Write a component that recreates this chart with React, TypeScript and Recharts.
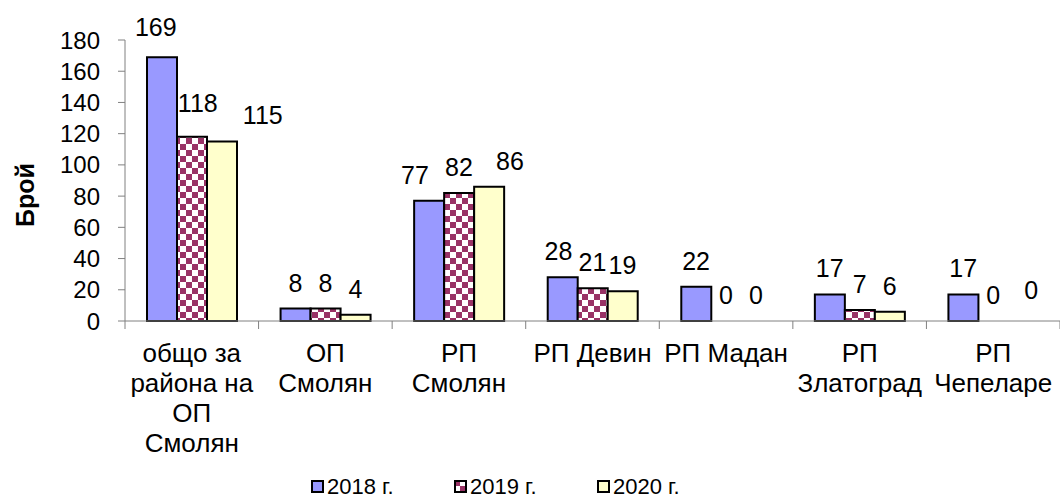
import { ComposedChart, Bar, Line, XAxis, YAxis, Legend, LabelList } from "recharts";

const categories = [
  "общо за\nрайона на\nОП\nСмолян",
  "ОП\nСмолян",
  "РП\nСмолян",
  "РП Девин",
  "РП Мадан",
  "РП\nЗлатоград",
  "РП\nЧепеларе",
];
const y2018 = [169, 8, 77, 28, 22, 17, 17];
const y2019 = [118, 8, 82, 21, 0, 7, 0];
const y2020 = [115, 4, 86, 19, 0, 6, 0];
const yTicks = [0, 20, 40, 60, 80, 100, 120, 140, 160, 180];
const seriesNames = ["2018 г.", "2019 г.", "2020 г."];

const data = categories.map((name, i) => ({
  name,
  a: y2018[i],
  b: y2019[i],
  c: y2020[i],
}));

const W = 1060;
const H = 499;
const Y_W = 125;
const BAR = 30;
const BAND = (W - Y_W) / categories.length;
const FONT = '"Liberation Sans", Arial, sans-serif';
const AXIS = "#808080";
const LINE_H = 30;

// hand-placed label nudges seen in the original (series-index -> [dx, dy])
const labelNudge: Record<string, [number, number]> = {
  "a-0": [-6, -4],
  "b-0": [6, -8],
  "c-0": [41, 0],
  "a-2": [-14, 0],
  "c-2": [21, 0],
  "a-3": [-4, 0],
  "c-6": [8, -5],
};

function XTick(props: any) {
  const { x, y, payload, index } = props;
  const lines = String(payload.value).split("\n");
  const left = x - BAND / 2;
  return (
    <g>
      <line x1={left} x2={left} y1={y} y2={y + 8} stroke={AXIS} />
      {index === categories.length - 1 && (
        <line x1={left + BAND} x2={left + BAND} y1={y} y2={y + 8} stroke={AXIS} />
      )}
      <text x={x} y={y + 41} textAnchor="middle" fontSize={26} fontFamily={FONT} fill="#000">
        {lines.map((l, i) => (
          <tspan key={i} x={x} dy={i === 0 ? 0 : LINE_H}>
            {l}
          </tspan>
        ))}
      </text>
    </g>
  );
}

function YLabel() {
  const cx = 25;
  const cy = 195;
  return (
    <text
      x={cx}
      y={cy}
      transform={`rotate(-90 ${cx} ${cy})`}
      textAnchor="middle"
      dominantBaseline="central"
      fontSize={25}
      fontWeight="bold"
      fontFamily={FONT}
      fill="#000"
    >
      Брой
    </text>
  );
}

function makeLabel(key: string, shift: number) {
  return (p: any) => {
    if (p.x == null || p.y == null) return null;
    const n = labelNudge[`${key}-${p.index}`] || [0, 0];
    return (
      <text
        x={p.x + shift + n[0]}
        y={p.y - 17 + n[1]}
        textAnchor="middle"
        fontSize={25}
        fontFamily={FONT}
        fill="#000"
      >
        {p.value}
      </text>
    );
  };
}

function LegendBox() {
  const fills = ["#9999FF", "url(#checker)", "#FFFFCC"];
  return (
    <div
      style={{
        height: 28,
        display: "flex",
        alignItems: "flex-end",
        paddingLeft: 311,
        fontFamily: FONT,
        fontSize: 22,
        lineHeight: "25px",
      }}
    >
      {seriesNames.map((n, i) => (
        <div key={n} style={{ width: 143, flexShrink: 0, display: "flex", alignItems: "center" }}>
          <svg width={13} height={13} style={{ display: "block", width: 13, height: 13, flexShrink: 0, marginRight: 3 }}>
            <rect x={1} y={1} width={11} height={11} fill={fills[i]} stroke="#000" strokeWidth={2} />
          </svg>
          <span style={{ whiteSpace: "nowrap" }}>{n}</span>
        </div>
      ))}
    </div>
  );
}

export default function App() {
  return (
    <div style={{ position: "absolute", left: 0, top: 0, width: W, height: H, background: "#fff" }}>
      <ComposedChart
        width={W}
        height={H}
        data={data}
        margin={{ top: 40, right: 0, bottom: 0, left: 0 }}
        barGap={0}
        barSize={BAR}
      >
        <defs>
          <pattern id="checker" width={12} height={12} patternUnits="userSpaceOnUse">
            <rect width={12} height={12} fill="#ffffff" />
            <rect x={0} y={0} width={6} height={6} fill="#993366" />
            <rect x={6} y={6} width={6} height={6} fill="#993366" />
          </pattern>
        </defs>
        <XAxis
          dataKey="name"
          interval={0}
          height={150}
          tickLine={false}
          tickSize={0}
          tickMargin={0}
          stroke={AXIS}
          tick={<XTick />}
        />
        <YAxis
          width={Y_W}
          domain={[0, 180]}
          ticks={yTicks}
          interval={0}
          tickSize={7}
          tickMargin={18}
          stroke={AXIS}
          tick={{ fill: "#000", fontSize: 24, fontFamily: FONT }}
          label={{ content: <YLabel /> }}
        />
        <Legend verticalAlign="bottom" align="left" content={<LegendBox />} wrapperStyle={{ left: 0, width: W }} />
        <Bar dataKey="a" name={seriesNames[0]} fill="#9999FF" stroke="#000" strokeWidth={2} isAnimationActive={false} />
        <Bar dataKey="b" name={seriesNames[1]} fill="url(#checker)" stroke="#000" strokeWidth={2} isAnimationActive={false} />
        <Bar dataKey="c" name={seriesNames[2]} fill="#FFFFCC" stroke="#000" strokeWidth={2} isAnimationActive={false} />
        {/* invisible lines only carry the value labels (they also show the zeros) */}
        <Line dataKey="a" stroke="none" dot={false} activeDot={false} legendType="none" isAnimationActive={false}>
          <LabelList dataKey="a" content={makeLabel("a", -BAR)} />
        </Line>
        <Line dataKey="b" stroke="none" dot={false} activeDot={false} legendType="none" isAnimationActive={false}>
          <LabelList dataKey="b" content={makeLabel("b", 0)} />
        </Line>
        <Line dataKey="c" stroke="none" dot={false} activeDot={false} legendType="none" isAnimationActive={false}>
          <LabelList dataKey="c" content={makeLabel("c", BAR)} />
        </Line>
      </ComposedChart>
    </div>
  );
}
